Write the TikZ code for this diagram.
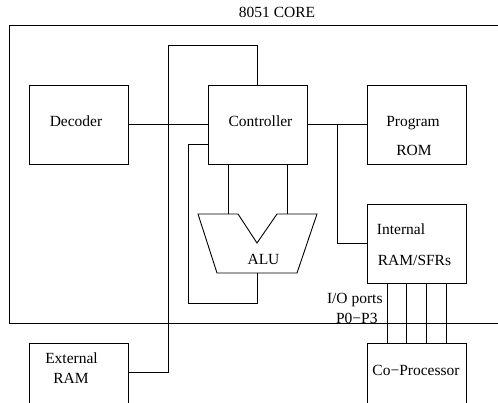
\documentclass[tikz,border=0pt]{standalone}
\usepackage{fontspec}
\setmainfont{Liberation Serif}
\usetikzlibrary{positioning}

\begin{document}
\begin{tikzpicture}[x=1pt, y=-1pt, line width=0.9pt,
				block/.style={draw, minimum width=99pt, minimum height=79pt, inner sep=0pt},
				txt/.style={inner sep=0pt, anchor=base},
				font=\fontsize{15.5}{18}\selectfont]
				%Bildbereich
				\useasboundingbox (0,0) rectangle (498,402);
				% Rahmen 8051 CORE
				\node[txt] (core) at (277,17) {8051 CORE};
				\draw (498,25) -- (9,25) -- (9,323) -- (498,323);
				% Bloecke zeichnen
				\node[block] (dec) at (78.5,124.5) {};
				\node[block] (ctrl) at (257.5,124.5) {};
				\node[block] (rom) at (416.5,124.5) {};
				\node[block] (iram) at (416.5,243.5) {};
				\node[block, minimum height=70pt] (cop) at (416.5,378) {};
				\node[block, minimum height=70pt] (ext) at (78.5,378) {};
				% ALU
				\draw (198,214) -- (238,214) -- (257,243) -- (277,214) -- (317,214) -- (297,273) -- (217,273) -- cycle;
				\coordinate (aluL) at (228,214);
				\coordinate (aluR) at (287,214);
				\coordinate (aluB) at (257,273);
				% Blöcke beschriften
				\node[txt] (decT) at (76,126) {Decoder};
				\node[txt] (ctrlT) at (260.5,126) {Controller};
				\node[txt] (romT) at (413,126) {Program};
				\node[txt] (romT2) at (414,155) {ROM};
				\node[txt] (iramT) at (401,234) {Internal};
				\node[txt] (iramT2) at (414.5,265) {RAM/SFRs};
				\node[txt] (aluT) at (263.5,264) {ALU};
				\node[txt] (copT) at (416,375) {Co−Processor};
				\node[txt] (extT) at (71.5,363) {External};
				\node[txt] (extT2) at (71,383) {RAM};
				\node[txt, anchor=base east] (ioT) at (383,303) {I/O ports};
				\node[txt, anchor=base east] (ioT2) at (378,323) {P0−P3};
				% Verbindungen
				\coordinate (busTop) at (168,45);
				\coordinate (j1) at (337,124.5);
				\coordinate (fb) at (188,303);
				\draw (dec) -- (ctrl);
				\draw (ctrl) -- (rom);
				\draw (j1) |- (iram);
				\draw (ext.east |- 0,372) -| (busTop) -| (ctrl.north);
				\draw ([yshift=-20pt]ctrl.west) -| (fb) -| (aluB);
				\draw (ctrl.south -| aluL) -- (aluL);
				\draw (ctrl.south -| aluR) -- (aluR);
				% Ports P0-P3
				\foreach \x in {387,406,426,446} \draw (iram.south -| \x,0) -- (cop.north -| \x,0);
			\end{tikzpicture}
\end{document}
